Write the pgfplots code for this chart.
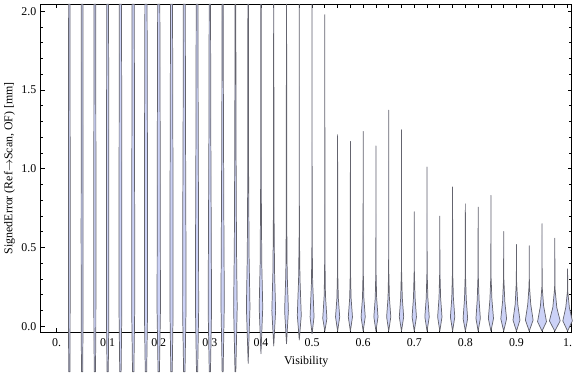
\documentclass[border=0pt]{standalone}
\usepackage{fontspec}
\setmainfont{Liberation Serif}
\usepackage{pgfplots}
\usepackage{pgfplotstable}
\pgfplotsset{compat=1.18}
\definecolor{vfill}{RGB}{204,210,247}
\definecolor{vedge}{RGB}{100,100,110}

% violin profiles: x, then (y, half-width in px) at five levels
\pgfplotstableread{
x     ya     wa  yb    wb  yc   wc  yd   wd   ye    we
0.025 -0.288 0.6 0.00  0.8 0.60 0.9 1.30 0.8  2.044 0.7
0.050 -0.288 0.6 0.00  0.9 0.60 1.0 1.30 0.9  2.044 0.8
0.075 -0.288 0.6 0.00  1.0 0.60 1.1 1.30 1.0  2.044 0.9
0.100 -0.288 0.6 0.00  1.1 0.60 1.2 1.30 1.1  2.044 0.9
0.125 -0.288 0.7 0.10  1.4 0.60 1.4 1.30 1.3  2.044 1.1
0.150 -0.288 0.7 0.10  1.5 0.60 1.5 1.30 1.3  2.044 1.1
0.175 -0.288 0.7 0.10  1.6 0.60 1.6 1.30 1.4  2.044 1.1
0.200 -0.288 0.7 0.10  1.7 0.60 1.6 1.30 1.4  2.044 1.1
0.225 -0.288 0.7 0.10  1.6 0.60 1.6 1.30 1.3  2.044 1.0
0.250 -0.288 0.7 0.10  1.7 0.60 1.6 1.30 1.2  2.044 1.0
0.275 -0.288 0.6 0.10  1.6 0.60 1.5 1.30 1.1  2.044 0.9
0.300 -0.288 0.6 0.10  1.7 0.60 1.4 1.30 0.9  2.044 0.7
0.325 -0.288 0.5 0.15  1.7 0.60 1.3 1.30 0.8  2.044 0.6
0.350 -0.288 0.4 0.12  1.8 0.50 1.1 1.20 0.6  2.044 0.4
0.375 -0.235 0.0 0.12  1.8 0.45 0.9 1.00 0.4  2.044 0.3
0.400 -0.174 0.0 0.12  1.8 0.40 0.8 0.90 0.3  2.044 0.2
0.425 -0.124 0.0 0.10  1.9 0.35 0.8 0.80 0.2  2.044 0.1
0.450 -0.110 0.0 0.10  1.9 0.33 0.7 0.70 0.2  2.044 0.1
0.475 -0.086 0.0 0.07  2.0 0.30 0.7 0.60 0.1  2.044 0.0
0.500 -0.047 0.0 0.06  2.0 0.28 0.6 0.55 0.1  2.044 0.0
0.525 -0.030 0.0 0.05  2.1 0.20 0.6 0.45 0.1  1.978 0.0
0.550 -0.030 0.0 0.06  2.1 0.18 0.7 0.35 0.1  1.216 0.0
0.575 -0.030 0.0 0.06  2.1 0.18 0.7 0.35 0.1  1.174 0.0
0.600 -0.030 0.0 0.06  2.1 0.18 0.7 0.35 0.1  1.237 0.0
0.625 -0.030 0.0 0.06  2.1 0.18 0.7 0.35 0.1  1.145 0.0
0.650 -0.030 0.0 0.06  2.1 0.18 0.7 0.35 0.1  1.372 0.0
0.675 -0.030 0.0 0.06  2.2 0.18 0.8 0.35 0.1  1.248 0.0
0.700 -0.030 0.0 0.06  2.2 0.18 0.8 0.35 0.1  0.728 0.0
0.725 -0.030 0.0 0.06  2.2 0.18 0.8 0.35 0.1  1.011 0.0
0.750 -0.030 0.0 0.06  2.2 0.18 0.8 0.35 0.1  0.700 0.0
0.775 -0.030 0.0 0.06  2.2 0.18 0.8 0.35 0.1  0.885 0.0
0.800 -0.030 0.0 0.05  2.3 0.17 0.9 0.33 0.1  0.778 0.0
0.825 -0.030 0.0 0.05  2.2 0.17 0.9 0.33 0.1  0.757 0.0
0.850 -0.030 0.0 0.05  2.6 0.17 1.0 0.32 0.1  0.831 0.0
0.875 -0.030 0.0 0.048 2.9 0.16 1.1 0.30 0.15 0.602 0.0
0.900 -0.030 0.0 0.04  3.5 0.14 1.3 0.28 0.15 0.520 0.0
0.925 -0.030 0.0 0.04  3.9 0.14 1.5 0.26 0.15 0.512 0.0
0.950 -0.030 0.0 0.03  4.5 0.13 1.6 0.25 0.15 0.652 0.0
0.975 -0.030 0.0 0.035 5.4 0.12 2.0 0.24 0.2  0.560 0.0
1.000 -0.030 0.0 0.035 4.8 0.12 1.8 0.22 0.2  0.365 0.0
}\violins

\newcommand\getv[2]{\pgfplotstablegetelem{#1}{#2}\of\violins\expandafter\edef\csname v#2\endcsname{\pgfplotsretval}}
\newcommand\pxw{515.5}

\begin{document}
\fontsize{9}{10.5}\selectfont
\begin{tikzpicture}
\begin{axis}[
  scale only axis, width=402pt, height=248pt,
  xmin=-0.0314, xmax=1.0084, ymin=-0.0358, ymax=2.044,
  clip=false,
  axis line style={line width=0.75pt},
  xtick={0,0.025,0.05,0.075,0.1,0.125,0.15,0.175,0.2,0.225,0.25,0.275,0.3,0.325,0.35,0.375,0.4,0.425,0.45,0.475,0.5,0.525,0.55,0.575,0.6,0.625,0.65,0.675,0.7,0.725,0.75,0.775,0.8,0.825,0.85,0.875,0.9,0.925,0.95,0.975,1},
  xticklabels={0.,{},{},{},0.1,{},{},{},0.2,{},{},{},0.3,{},{},{},0.4,{},{},{},0.5,{},{},{},0.6,{},{},{},0.7,{},{},{},0.8,{},{},{},0.9,{},{},{},1.},
  ytick={0,0.5,1,1.5,2},
  yticklabels={0.0,0.5,1.0,1.5,2.0},
  minor ytick={0.1,0.2,0.3,0.4,0.6,0.7,0.8,0.9,1.1,1.2,1.3,1.4,1.6,1.7,1.8,1.9},
  tick align=inside,
  major tick length=3.2pt, minor tick length=2pt,
  tick style={black, line width=0.6pt},
  xticklabel style={yshift=-2pt},
  xlabel={Visibility},
  ylabel={SignedError (Ref$\rightarrow$Scan, OF) [mm]},
  every axis x label/.style={at={(rel axis cs:0.5,0)}, yshift=-22.5pt, anchor=center},
  every axis y label/.style={at={(rel axis cs:0,0.5)}, xshift=-23.5pt, rotate=90, anchor=center},
  violin/.style={sharp plot, draw=vedge, line width=0.55pt, fill=vfill, mark=none, line join=round},
]
\pgfplotsinvokeforeach{0,...,39}{
  \getv{#1}{x}\getv{#1}{ya}\getv{#1}{wa}\getv{#1}{yb}\getv{#1}{wb}
  \getv{#1}{yc}\getv{#1}{wc}\getv{#1}{yd}\getv{#1}{wd}\getv{#1}{ye}\getv{#1}{we}
  \pgfmathsetmacro\xra{\vx+\vwa/\pxw}\pgfmathsetmacro\xla{\vx-\vwa/\pxw}
  \pgfmathsetmacro\xrb{\vx+\vwb/\pxw}\pgfmathsetmacro\xlb{\vx-\vwb/\pxw}
  \pgfmathsetmacro\xrc{\vx+\vwc/\pxw}\pgfmathsetmacro\xlc{\vx-\vwc/\pxw}
  \pgfmathsetmacro\xrd{\vx+\vwd/\pxw}\pgfmathsetmacro\xld{\vx-\vwd/\pxw}
  \pgfmathsetmacro\xre{\vx+\vwe/\pxw}\pgfmathsetmacro\xle{\vx-\vwe/\pxw}
  \edef\cmd{\noexpand\addplot[violin] coordinates {(\xra,\vya) (\xrb,\vyb) (\xrc,\vyc) (\xrd,\vyd) (\xre,\vye) (\xle,\vye) (\xld,\vyd) (\xlc,\vyc) (\xlb,\vyb) (\xla,\vya)} -- cycle;}
  \cmd
}
\path (rel axis cs:0,1) ++(-29.5pt,3.2pt) coordinate (bbA);
\path (rel axis cs:1,0) ++(0.5pt,-30pt) coordinate (bbB);
\end{axis}
\end{tikzpicture}
\end{document}
